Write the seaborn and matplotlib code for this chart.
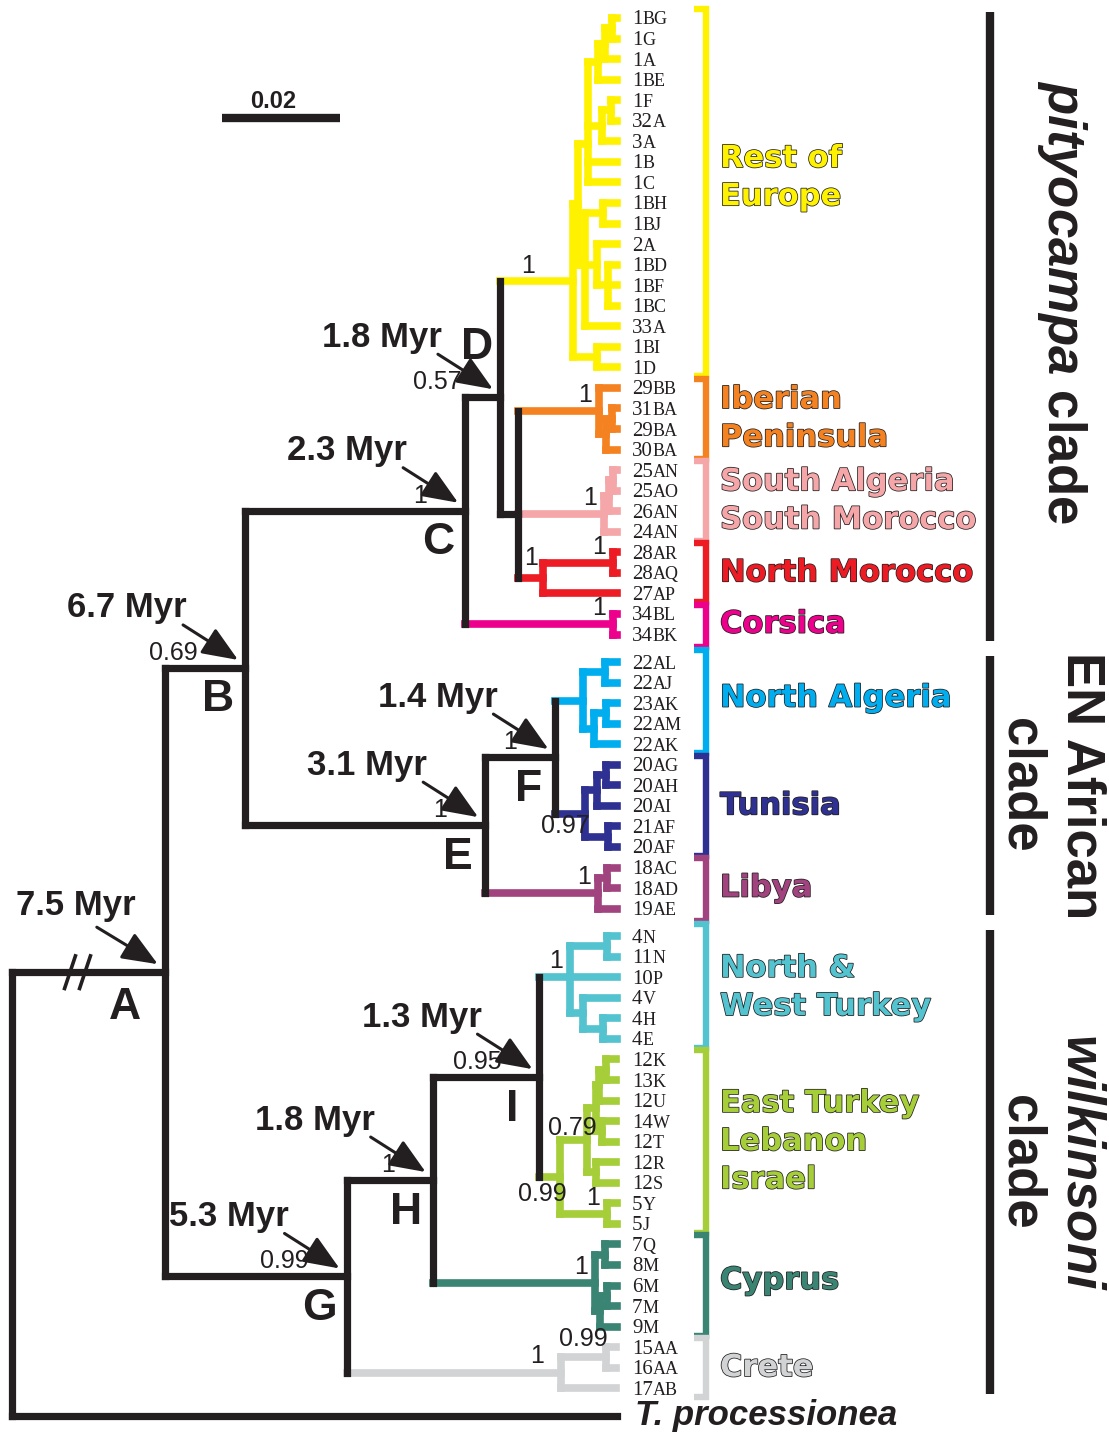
import re

import numpy as np
import pandas as pd
import matplotlib
matplotlib.use('Agg')
import matplotlib.pyplot as plt
import matplotlib.patheffects as pe
import seaborn as sns

# ---- data ------------------------------------------------------------------
# regional subtrees, branch lengths in substitutions/site, node labels = support
EUROPE = ("((((((1BG:0.0008,1G:0.0008):0.0012,1A:0.0020):0.0012,1BE:0.0032):0.0017,"
          "((1F:0.0010,32A:0.0010):0.0015,3A:0.0025):0.0024,1B:0.0049,1C:0.0049):0.0017,"
          "((1BH:0.0024,1BJ:0.0024):0.0031,(2A:0.0034,(1BD:0.0015,1BF:0.0015,1BC:0.0015):0.0019):0.0020,"
          "33A:0.0054):0.0012):0.0008,(1BI:0.0034,1D:0.0034):0.0041)1")
IBERIA = "(29BB:0.0031,((31BA:0.0008,29BA:0.0008):0.0010,30BA:0.0019):0.0012)1"
S_ALG = "(((25AN:0.0007,25AO:0.0007):0.0007,26AN:0.0014):0.0008,24AN:0.0022)1"
N_MOR = "((28AR:0.0007,28AQ:0.0007)1:0.0119,27AP:0.0125)1"
CORSICA = "(34BL:0.0007,34BK:0.0007)1"
N_ALG = "((22AL:0.0020,22AJ:0.0020):0.0037,((23AK:0.0020,22AM:0.0020):0.0019,22AK:0.0039):0.0019)"
TUNISIA = "(((20AG:0.0019,20AH:0.0019):0.0015,20AI:0.0034):0.0020,(21AF:0.0015,20AF:0.0015):0.0039)0.97"
LIBYA = "((18AC:0.0017,18AD:0.0017):0.0015,19AE:0.0032)1"
NW_TURKEY = "((4N:0.0017,11N:0.0017):0.0063,10P:0.0080,(4V:0.0058,(4H:0.0024,4E:0.0024):0.0034):0.0022)1"
E_TURKEY = ("(((((12K:0.0017,13K:0.0017):0.0012,12U:0.0029):0.0005,(14W:0.0024,12T:0.0024):0.0010):0.0015,"
            "(12R:0.0034,12S:0.0034):0.0015)0.79:0.0047,(5Y:0.0017,5J:0.0017)1:0.0080)0.99")
CYPRUS = "((7Q:0.0020,8M:0.0020):0.0017,((6M:0.0017,7M:0.0017):0.0012,9M:0.0029):0.0008)1"
CRETE = "((15AA:0.0017,16AA:0.0017)0.99:0.0076,17AB:0.0093)1"

# backbone, internal labels "support/node"
TREE = ("((((({EUROPE}:0.0124,({IBERIA}:0.0137,{S_ALG}:0.0146,{N_MOR}:0.0042):0.0031)0.57/D:0.0059,"
        "{CORSICA}:0.0251)1/C:0.0373,(({N_ALG}:0.0047,{TUNISIA}:0.0051)1/F:0.0119,{LIBYA}:0.0192)1/E:0.0407)0.69/B:0.0136,"
        "((({NW_TURKEY}:0.0051,{E_TURKEY}:0.0034)0.95/I:0.0181,{CYPRUS}:0.0275)1/H:0.0146,{CRETE}:0.0363)0.99/G:0.0308)/A:0.0259,"
        "T._processionea:0.1025);").format(EUROPE=EUROPE, IBERIA=IBERIA, S_ALG=S_ALG, N_MOR=N_MOR,
                                           CORSICA=CORSICA, N_ALG=N_ALG, TUNISIA=TUNISIA, LIBYA=LIBYA,
                                           NW_TURKEY=NW_TURKEY, E_TURKEY=E_TURKEY, CYPRUS=CYPRUS, CRETE=CRETE)

REGION_NAMES = ['Rest of\nEurope', 'Iberian\nPeninsula', 'South Algeria\nSouth Morocco', 'North Morocco',
                'Corsica', 'North Algeria', 'Tunisia', 'Libya', 'North &\nWest Turkey',
                'East Turkey\nLebanon\nIsrael', 'Cyprus', 'Crete']
REGION_SIZES = [18, 4, 4, 3, 2, 5, 5, 3, 6, 9, 5, 3]
REGION_COLORS = ['#FFF200', '#F58220', '#F4A6A8', '#ED1C24', '#EC008C', '#00AEEF',
                 '#2E3192', '#A1437F', '#52C3CF', '#A6CE39', '#3A8474', '#D1D3D4']

MAJOR_CLADES = ['$\\mathit{pityocampa}$ clade', 'EN African\nclade', '$\\mathit{wilkinsoni}$\nclade']
MAJOR_SIZES = [5, 3, 4]   # regions in each clade

NODE_AGES = {'A': 7.5, 'B': 6.7, 'C': 2.3, 'D': 1.8, 'E': 3.1, 'F': 1.4, 'G': 5.3, 'H': 1.8, 'I': 1.3}
SCALE_BAR = 0.02

# ---- layout ----------------------------------------------------------------
W, H = 1109, 1435
INK = '#231F20'
PX_PER_SUB = 5900          # 0.02 subst/site ~ 118 px
ROOT_PX = 12
LEAF_PX0, LEAF_STEP = 18, 20.55
MAJOR_GAP = 0.34


def dx(p):
    return p / PX_PER_SUB


def dy(p):
    return p / LEAF_STEP


def xpx(p):
    return (p - ROOT_PX) / PX_PER_SUB


def ypx(p):
    return (p - LEAF_PX0) / LEAF_STEP


def parse_newick(s):
    pos = 0

    def node():
        nonlocal pos
        kids = []
        if s[pos] == '(':
            pos += 1
            kids.append(node())
            while s[pos] == ',':
                pos += 1
                kids.append(node())
            pos += 1
        start = pos
        while s[pos] not in ':,);':
            pos += 1
        label = s[start:pos]
        length = 0.0
        if s[pos] == ':':
            pos += 1
            start = pos
            while s[pos] not in ',);':
                pos += 1
            length = float(s[start:pos])
        return {'label': label, 'length': length, 'kids': kids}

    return node()


tree = parse_newick(TREE)
leaf_region = np.repeat(np.arange(len(REGION_SIZES)), REGION_SIZES)
region_major = np.repeat(np.arange(len(MAJOR_SIZES)), MAJOR_SIZES)
leaf_major = region_major[leaf_region]

leaves, inner = [], []


def place(n, x0):
    n['x'] = x0 + n['length']
    if not n['kids']:
        i = len(leaves)
        if i < len(leaf_region):
            n['region'], major = leaf_region[i], leaf_major[i]
        else:
            n['region'], major = -1, len(MAJOR_SIZES)
        n['y'] = i + major * MAJOR_GAP
        n['tips'] = [n['label']]
        leaves.append(n)
        return
    for k in n['kids']:
        place(k, n['x'])
    n['y'] = float(np.median([k['y'] for k in n['kids']]))
    regs = {int(k['region']) for k in n['kids']}
    n['region'] = regs.pop() if len(regs) == 1 else -1
    n['tips'] = sum((k['tips'] for k in n['kids']), [])
    inner.append(n)


place(tree, 0.0)

rows = []
for n in inner:
    ys = [k['y'] for k in n['kids']]
    segs = [((n['x'], n['x']), (min(ys), max(ys)), n['region'])]
    segs += [((n['x'], k['x']), (k['y'], k['y']), k['region']) for k in n['kids']]
    for xs, yy, reg in segs:
        sid = len(rows) // 2
        grp = REGION_NAMES[reg] if reg >= 0 else 'backbone'
        rows.append({'seg': sid, 'x': xs[0], 'y': yy[0], 'group': grp})
        rows.append({'seg': sid, 'x': xs[1], 'y': yy[1], 'group': grp})
segs = pd.DataFrame(rows)

# ---- plot ------------------------------------------------------------------
sns.set_theme(style='white')
plt.rcParams['font.family'] = ['Liberation Sans', 'DejaVu Sans']
plt.rcParams['mathtext.fontset'] = 'custom'
plt.rcParams['mathtext.it'] = 'Liberation Sans:italic:bold'
plt.rcParams['mathtext.rm'] = 'Liberation Sans:bold'
plt.rcParams['mathtext.bf'] = 'Liberation Sans:bold'

fig = plt.figure(figsize=(W / 100, H / 100), dpi=100)
ax = fig.add_axes([0, 0, 1, 1])

sns.lineplot(data=segs[segs.group != 'backbone'], x='x', y='y', units='seg', estimator=None,
             hue='group', palette=dict(zip(REGION_NAMES, REGION_COLORS)), sort=False,
             linewidth=5.5, legend=False, ax=ax, solid_capstyle='projecting')
sns.lineplot(data=segs[segs.group == 'backbone'], x='x', y='y', units='seg', estimator=None,
             color=INK, sort=False, linewidth=5.2, legend=False, ax=ax, solid_capstyle='projecting')

# break on the root branch
a_node = tree['kids'][0]
for c in (70, 85):
    ax.plot([xpx(c - 6), xpx(c + 6)], [a_node['y'] + dy(18), a_node['y'] - dy(18)],
            color=INK, lw=2.6, solid_capstyle='butt')

# tip labels
DIGIT_PX = 0.5 * 15 * 100 / 72
for n in leaves:
    if n['region'] < 0:
        ax.text(xpx(635), n['y'], n['label'].replace('_', ' '), fontsize=25, fontweight='bold',
                fontstyle='italic', va='center', ha='left', color=INK)
        continue
    num, code = re.match(r'(\d+)(\D+)', n['label']).groups()
    base = n['y'] + dy(6.5)
    ax.text(xpx(632), base, num, family='Liberation Serif', fontsize=15, va='baseline', color=INK)
    ax.text(xpx(632) + dx(len(num) * DIGIT_PX), base, code, family='Liberation Serif',
            fontsize=13, va='baseline', color=INK)

# region brackets and names
leaf_y = np.array([n['y'] for n in leaves[:len(leaf_region)]])
starts = np.cumsum([0] + REGION_SIZES[:-1])
REGION_DY = {0: -15, 5: -5, 10: -5}
for r, (name, col) in enumerate(zip(REGION_NAMES, REGION_COLORS)):
    s, e = starts[r], starts[r] + REGION_SIZES[r] - 1
    top = (leaf_y[s - 1] + leaf_y[s]) / 2 if s > 0 else leaf_y[s] - 0.5
    bot = (leaf_y[e] + leaf_y[e + 1]) / 2 if e + 1 < len(leaf_y) else leaf_y[e] + 0.5
    top, bot = top + 0.06, bot - 0.06
    ax.plot([xpx(694), xpx(706), xpx(706), xpx(694)], [top, top, bot, bot], color=col, lw=4.6,
            solid_joinstyle='miter', solid_capstyle='butt')
    ax.text(xpx(720), (leaf_y[s] + leaf_y[e]) / 2 + dy(REGION_DY.get(r, 0)), name, color=col,
            family='DejaVu Sans', fontsize=22, fontweight='bold', va='center', ha='left',
            linespacing=1.4,
            path_effects=[pe.Stroke(linewidth=1.1, foreground=INK), pe.Normal()])

# major clade bars
reg_starts = np.cumsum([0] + MAJOR_SIZES[:-1])
MAJOR_TEXT = [(1062, -24), (1051, 0), (1051, 0)]
for m, label in enumerate(MAJOR_CLADES):
    r0, r1 = reg_starts[m], reg_starts[m] + MAJOR_SIZES[m] - 1
    y0 = leaf_y[starts[r0]] - 0.3
    y1 = leaf_y[starts[r1] + REGION_SIZES[r1] - 1] + 0.3
    ax.plot([xpx(990), xpx(990)], [y0, y1], color=INK, lw=6, solid_capstyle='butt')
    tx, tdy = MAJOR_TEXT[m]
    ax.text(xpx(tx), (y0 + y1) / 2 + dy(tdy), label, rotation=-90, fontsize=38, fontweight='bold',
            ha='center', va='center', multialignment='center', linespacing=1.3, color=INK)

# node letters, ages, arrows and support values
LETTER_DXY = {'A': (-40, 35), 'D': (-23, -50)}
AGE_DXY = {'A': (-89, -67)}
ARROW_FROM = {'A': (-68, -45)}
SUPPORT_DXY = {('1BG', '1D'): (-38, -15), ('20AG', '20AF'): (4, 12), ('12K', '12S'): (9, -12),
               ('12K', '5J'): (7, 17), ('15AA', '17AB'): (-17, -17), ('15AA', '16AA'): (2, -18),
               ('28AR', '27AP'): (-5, -20)}
for n in inner:
    support, _, letter = n['label'].partition('/')
    x, y = n['x'], n['y']
    if letter:
        lx, ly = LETTER_DXY.get(letter, (-27, 32))
        ax.text(x + dx(lx), y + dy(ly), letter, fontsize=32, fontweight='bold', ha='center',
                va='center', color=INK)
        ax_, ay_ = AGE_DXY.get(letter, (-118, -60))
        ax.text(x + dx(ax_), y + dy(ay_), f'{NODE_AGES[letter]} Myr', fontsize=25,
                fontweight='bold', ha='center', va='center', color=INK)
        fx, fy = ARROW_FROM.get(letter, (-62, -43))
        ax.annotate('', xy=(x + dx(-7), y + dy(-8)), xytext=(x + dx(fx), y + dy(fy)),
                    arrowprops=dict(arrowstyle='-|>,head_length=1.1,head_width=0.45',
                                    mutation_scale=20, lw=2.2, color=INK,
                                    shrinkA=0, shrinkB=0))
    if support:
        if letter:
            sx, sy = (-47, -15) if letter == 'B' else (-38, -15)
        else:
            sx, sy = SUPPORT_DXY.get((n['tips'][0], n['tips'][-1]), (-7, -16))
        ax.text(x + dx(sx), y + dy(sy), support, fontsize=18, ha='right', va='center', color=INK)

# scale bar
ax.plot([xpx(222), xpx(222) + SCALE_BAR], [ypx(118), ypx(118)], color=INK, lw=6,
        solid_capstyle='butt')
ax.text(xpx(273), ypx(113), f'{SCALE_BAR}', family=['Liberation Sans Narrow', 'Liberation Sans'],
        fontsize=17, fontweight='bold', ha='center', va='bottom', color=INK)

ax.set_xlim(xpx(0), xpx(W))
ax.set_ylim(ypx(H), ypx(0))
ax.axis('off')

fig.savefig('out.png', dpi=100)
